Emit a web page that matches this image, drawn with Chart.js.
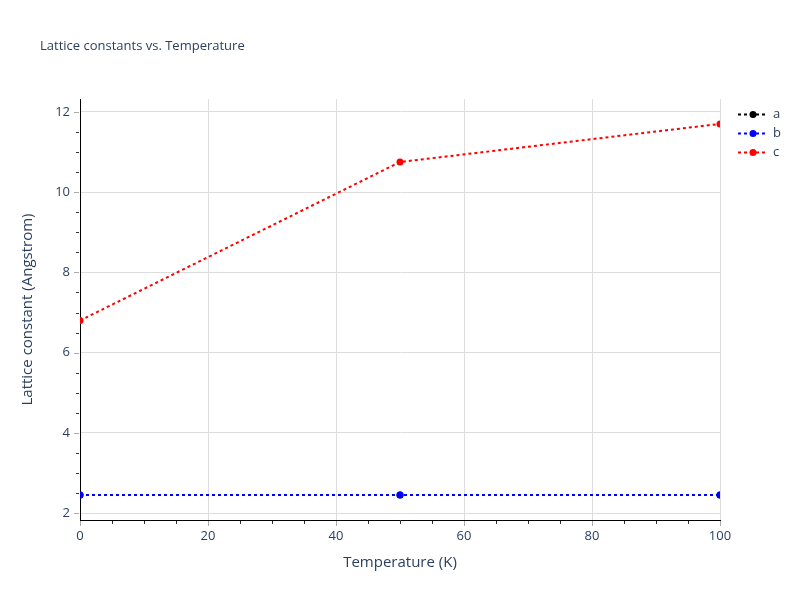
<!DOCTYPE html>
<html>
<head>
<meta charset="utf-8">
<script src="https://cdn.jsdelivr.net/npm/chart.js@4"></script>
<style>
  html,body{margin:0;padding:0;background:#fff;}
  #wrap{width:800px;height:600px;}
</style>
</head>
<body>
<div id="wrap"><canvas id="myChart" width="800" height="600"></canvas></div>
<script>
'use strict';
// data
const temps=[0,50,100];
const aValues=[2.45,2.45,2.45];
const bValues=[2.45,2.45,2.45];
const cValues=[6.8,10.75,11.7];
const seriesNames=['a','b','c'];
const seriesColors=['#000000','#0000ff','#ff0000'];

const titleText='Lattice constants vs. Temperature';
const xTitle='Temperature (K)';
const yTitle='Lattice constant (Angstrom)';
const fontFam='"Open Sans", verdana, arial, sans-serif';
const textColor='#2a3f5f';

function pts(vals){
    return temps.map((t,i)=>({x:t,y:vals[i]}));
}

// title + legend + little ticks, plotly style
const extras={
    id:'extras',
    afterDraw(chart){
        const ctx=chart.ctx;
        const area=chart.chartArea;
        ctx.save();
        ctx.fillStyle=textColor;
        ctx.font='13px '+fontFam;
        ctx.textBaseline='middle';
        ctx.textAlign='left';
        ctx.fillText(titleText,40,46);

        // tick marks: major grey, minor black
        ctx.lineWidth=1;
        const xs=chart.scales.x;
        xs.ticks.forEach(t=>{
            const px=Math.round(xs.getPixelForValue(t.value))+0.5;
            const major=(t.value%20===0);
            ctx.strokeStyle=major?'#aaaaaa':'#333333';
            ctx.beginPath();
            ctx.moveTo(px,area.bottom+1);
            ctx.lineTo(px,area.bottom+(major?6:4));
            ctx.stroke();
        });
        const ys=chart.scales.y;
        ys.ticks.forEach(t=>{
            const py=Math.round(ys.getPixelForValue(t.value))+0.5;
            const major=Math.abs(t.value%2)<1e-6;
            ctx.strokeStyle=major?'#aaaaaa':'#333333';
            ctx.beginPath();
            ctx.moveTo(area.left-1,py);
            ctx.lineTo(area.left-(major?6:4),py);
            ctx.stroke();
        });

        // legend
        ctx.font='13px '+fontFam;
        for(let i=0;i<seriesNames.length;i++){
            const y=114.5+i*19;
            ctx.strokeStyle=seriesColors[i];
            ctx.lineWidth=2;
            ctx.setLineDash([3,3]);
            ctx.beginPath();
            ctx.moveTo(738,y);
            ctx.lineTo(768,y);
            ctx.stroke();
            ctx.setLineDash([]);
            ctx.fillStyle=seriesColors[i];
            ctx.beginPath();
            ctx.arc(753,y,3.5,0,Math.PI*2);
            ctx.fill();
            ctx.fillStyle=textColor;
            ctx.fillText(seriesNames[i],773,y);
        }
        ctx.restore();
    }
};

const valuesList=[aValues,bValues,cValues];
const datasets=seriesNames.map((n,i)=>({
    label:n,
    data:pts(valuesList[i]),
    borderColor:seriesColors[i],
    backgroundColor:seriesColors[i],
    borderWidth:2,
    borderDash:[3,3],
    pointRadius:3.5,
    pointHoverRadius:3.5,
    pointBorderWidth:0,
    tension:0,
    fill:false,
    clip:0,
    order:seriesNames.length-i
}));

const ctx=document.getElementById('myChart').getContext('2d');
const myChart=new Chart(ctx,{
    type:'line',
    data:{datasets:datasets},
    options:{
        responsive:false,
        animation:false,
        layout:{padding:{left:0,right:80,top:99,bottom:0}},
        plugins:{legend:{display:false},tooltip:{enabled:false}},
        scales:{
            x:{
                type:'linear',
                min:0,max:100,
                afterFit(s){s.height=80;},
                border:{display:true,color:'#000',width:1},
                grid:{
                    drawTicks:false,
                    color:c=>(c.tick && c.tick.value%20===0 && c.tick.value!==0)?'#dddddd':'rgba(0,0,0,0)'
                },
                ticks:{
                    stepSize:5,
                    includeBounds:false,
                    autoSkip:false,
                    maxRotation:0,
                    padding:8,
                    color:textColor,
                    font:{family:fontFam,size:13},
                    callback:v=>(v%20===0)?String(v):''
                },
                title:{
                    display:true,
                    text:xTitle,
                    color:textColor,
                    font:{family:fontFam,size:15},
                    padding:{top:0,bottom:28}
                }
            },
            y:{
                type:'linear',
                min:1.83,max:12.32,
                afterFit(s){s.width=80;},
                border:{display:true,color:'#000',width:1},
                grid:{
                    drawTicks:false,
                    color:c=>(c.tick && Math.abs(c.tick.value%2)<1e-6)?'#dddddd':'rgba(0,0,0,0)'
                },
                ticks:{
                    stepSize:0.5,
                    includeBounds:false,
                    autoSkip:false,
                    padding:10,
                    color:textColor,
                    font:{family:fontFam,size:13},
                    callback:v=>(Math.abs(v%2)<1e-6)?String(v):''
                },
                title:{
                    display:true,
                    text:yTitle,
                    color:textColor,
                    font:{family:fontFam,size:15},
                    padding:{top:19,bottom:0}
                }
            }
        }
    },
    plugins:[extras]
});
</script>
</body>
</html>
